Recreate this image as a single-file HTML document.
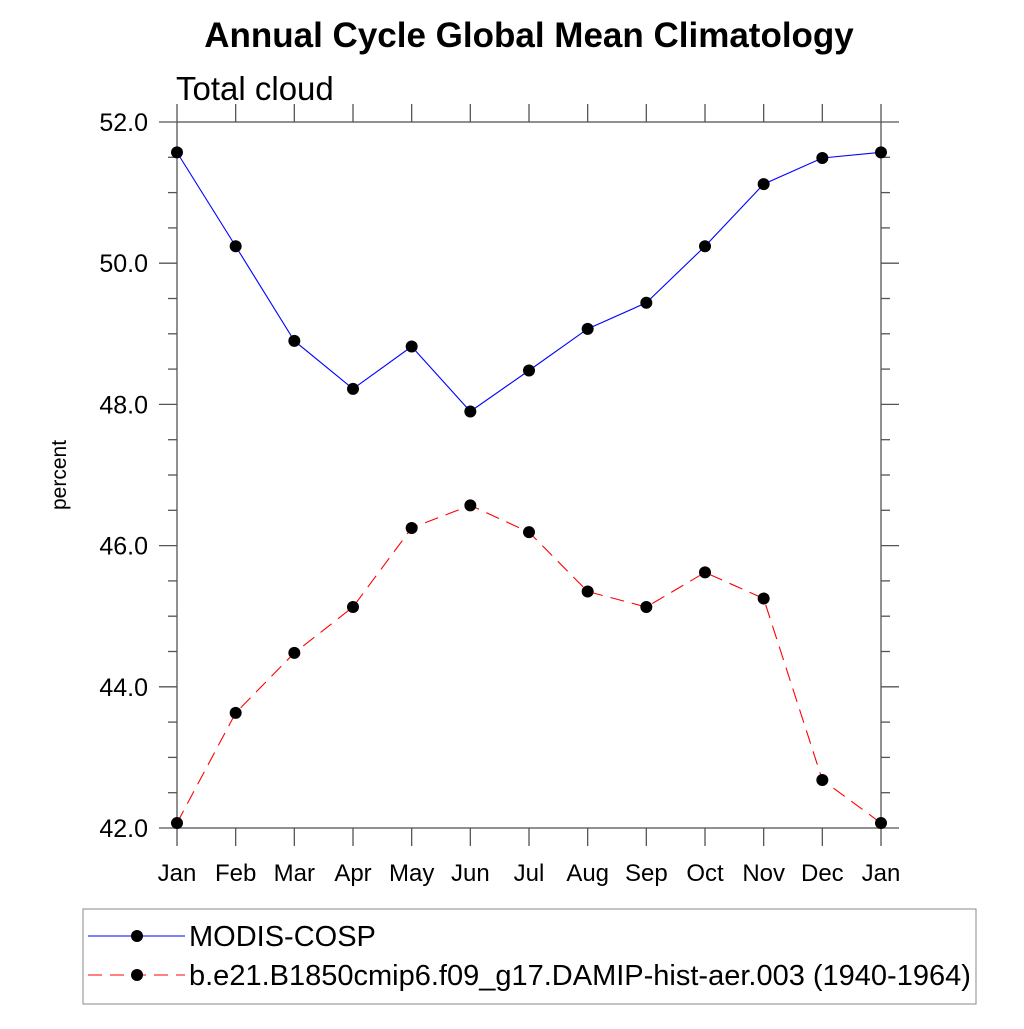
<!DOCTYPE html>
<html><head><meta charset="utf-8"><style>
body{margin:0;background:#fff}
svg text{font-family:"Liberation Sans",sans-serif}
</style></head><body>
<svg id="chart" width="1024" height="1024" xmlns="http://www.w3.org/2000/svg">
<text x="529" y="47" font-size="35" font-weight="bold" text-anchor="middle">Annual Cycle Global Mean Climatology</text>
<text x="176" y="100" font-size="33">Total cloud</text>
<text transform="translate(66,475) rotate(-90)" font-size="21" text-anchor="middle">percent</text>
<g id="axes"></g><g id="series"></g>
<g>
<rect x="83" y="909" width="893" height="95" fill="none" stroke="#888" stroke-width="1"/>
<line x1="88" y1="936" x2="185" y2="936" stroke="blue" stroke-width="1"/>
<circle cx="137" cy="936" r="6" fill="#000"/>
<text x="189" y="946" font-size="29">MODIS-COSP</text>
<line x1="88" y1="975" x2="185" y2="975" stroke="red" stroke-width="1" stroke-dasharray="14,8"/>
<circle cx="137" cy="975" r="6" fill="#000"/>
<text x="189" y="985" font-size="29">b.e21.B1850cmip6.f09_g17.DAMIP-hist-aer.003 (1940-1964)</text>
</g>
</svg>
<script>
const months=["Jan","Feb","Mar","Apr","May","Jun","Jul","Aug","Sep","Oct","Nov","Dec","Jan"];
const modis=[51.57,50.24,48.9,48.22,48.82,47.9,48.48,49.07,49.44,50.24,51.12,51.49,51.57];
const model=[42.07,43.63,44.48,45.13,46.25,46.57,46.19,45.35,45.13,45.62,45.25,42.68,42.07];
const yTicks=[42,44,46,48,50,52];
const yMin=42,yMax=52;
const X0=177,X1=881,Y0=828,Y1=122;
const xs=i=>X0+(X1-X0)*i/(months.length-1);
const ys=v=>Y0-(Y0-Y1)*(v-yMin)/(yMax-yMin);
const NS="http://www.w3.org/2000/svg";
function mk(tag,attrs,parent){const e=document.createElementNS(NS,tag);for(const k in attrs)e.setAttribute(k,attrs[k]);parent.appendChild(e);return e;}
const ax=document.getElementById('axes');
const st={stroke:"#555","stroke-width":1.3};
let b=mk('rect',{x:X0,y:Y1,width:X1-X0,height:Y0-Y1,fill:"none",stroke:"#555","stroke-width":1.3},ax);


for(let v=yMin;v<=yMax+1e-9;v+=0.5){
 const maj=Math.abs(v/2-Math.round(v/2))<1e-9;const L=maj?18:9;const y=ys(v);
 mk('line',Object.assign({x1:X0-L,y1:y,x2:X0,y2:y},st),ax);
 mk('line',Object.assign({x1:X1,y1:y,x2:X1+L,y2:y},st),ax);
}
yTicks.forEach(v=>{const t=mk('text',{x:X0-29,y:ys(v)+9,"font-size":25,"text-anchor":"end"},ax);t.textContent=v.toFixed(1);

});
months.forEach((m,i)=>{const x=xs(i);
 mk('line',Object.assign({x1:x,y1:Y0,x2:x,y2:Y0+18},st),ax);
 mk('line',Object.assign({x1:x,y1:Y1-18,x2:x,y2:Y1},st),ax);
 const t=mk('text',{x:x,y:Y0+53,"font-size":24,"text-anchor":"middle"},ax);t.textContent=m;
 
 });
const sg=document.getElementById('series');
function draw(vals,color,dash,name){
 const p=mk('polyline',{points:vals.map((v,i)=>xs(i)+","+ys(v)).join(" "),fill:"none",stroke:color,"stroke-width":1.1,"stroke-dasharray":dash},sg);
 
 
 vals.forEach((v,i)=>{const c=mk('circle',{cx:xs(i),cy:ys(v),r:6,fill:"#000"},sg);
 
 });
}
draw(modis,"blue","none","modis");
draw(model,"red","14,8","model");
</script>
</body></html>
